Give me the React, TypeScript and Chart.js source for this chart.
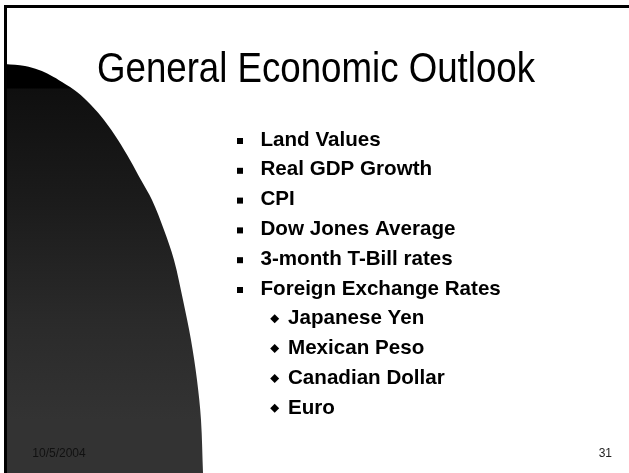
import React, { useEffect, useRef } from "react";
import { Chart, registerables } from "chart.js";

Chart.register(...registerables);

// ---- content ----
const TITLE = "General Economic Outlook";
const BULLETS = [
  "Land Values",
  "Real GDP Growth",
  "CPI",
  "Dow Jones Average",
  "3-month T-Bill rates",
  "Foreign Exchange Rates",
];
const SUB_BULLETS = ["Japanese Yen", "Mexican Peso", "Canadian Dollar", "Euro"];
const FOOTER_DATE = "10/5/2004";
const PAGE_NUMBER = "31";

// decorative arc edge (slide x, slide y)
const ARC_X = [5, 25, 39, 50, 62, 77, 91, 104, 118, 130, 141, 152, 164, 174, 183, 191, 197, 201, 203];
const ARC_Y = [64, 66, 70, 75, 82, 92, 105, 120, 140, 160, 180, 200, 230, 260, 300, 340, 380, 420, 473];

const W = 629;
const H = 473;

const slidePlugin = {
  id: "slide",
  beforeDatasetsDraw(chart: any) {
    const ctx = chart.ctx;
    ctx.save();
    ctx.fillStyle = "#ffffff";
    ctx.fillRect(0, 0, W, H);
    ctx.restore();
  },
  afterDatasetsDraw(chart: any) {
    const ctx = chart.ctx;
    ctx.save();
    // frame lines
    ctx.fillStyle = "#000";
    ctx.fillRect(4, 5, W - 4, 3);
    ctx.fillRect(4, 5, 3, H - 5);

    // title
    ctx.fillStyle = "#000";
    ctx.font = '42px "Liberation Sans Narrow", "Arial Narrow", "Liberation Sans", Arial, sans-serif';
    const tw = ctx.measureText(TITLE).width;
    const sx = 438 / tw;
    ctx.save();
    ctx.translate(316, 82);
    ctx.scale(sx, 1);
    ctx.textAlign = "center";
    ctx.textBaseline = "alphabetic";
    ctx.fillText(TITLE, 0, 0);
    ctx.restore();

    // bullets
    ctx.font = 'bold 20.6px "Liberation Sans", Arial, sans-serif';
    ctx.textAlign = "left";
    ctx.textBaseline = "alphabetic";
    const y0 = 145.5;
    const step = 29.8;
    BULLETS.forEach((t, i) => {
      const by = y0 + i * step;
      ctx.fillRect(237, by - 7.5, 6, 6);
      ctx.fillText(t, 260.5, by);
    });
    SUB_BULLETS.forEach((t, j) => {
      const by = y0 + (BULLETS.length + j) * step;
      const cx = 274.7;
      const cy = by - 5.5;
      ctx.beginPath();
      ctx.moveTo(cx, cy - 4.5);
      ctx.lineTo(cx + 4.5, cy);
      ctx.lineTo(cx, cy + 4.5);
      ctx.lineTo(cx - 4.5, cy);
      ctx.closePath();
      ctx.fill();
      ctx.fillText(t, 288, by);
    });

    // footer
    ctx.font = '12px "Liberation Sans", Arial, sans-serif';
    ctx.fillStyle = "#111";
    ctx.textAlign = "left";
    ctx.fillText(FOOTER_DATE, 32.3, 457);
    ctx.fillStyle = "#222";
    ctx.textAlign = "right";
    ctx.fillText(PAGE_NUMBER, 612, 457);
    ctx.restore();
  },
};

export default function App() {
  const ref = useRef<HTMLCanvasElement | null>(null);

  useEffect(() => {
    document.body.style.margin = "0";
    if (!ref.current) return;
    const chart = new Chart(ref.current, {
      type: "line",
      data: {
        datasets: [
          {
            data: ARC_X.map((x, i) => ({ x, y: ARC_Y[i] })),
            borderWidth: 0,
            borderColor: "rgba(0,0,0,0)",
            pointRadius: 0,
            tension: 0.35,
            fill: "start",
            backgroundColor: (c: any) => {
              const ch = c.chart;
              const ys = ch.scales && ch.scales.y;
              if (!ch.chartArea || !ys) return "#111";
              const top = ys.getPixelForValue(64);
              const bot = ys.getPixelForValue(473);
              const g = ch.ctx.createLinearGradient(0, top, 0, bot);
              const at = (v: number) => (ys.getPixelForValue(v) - top) / (bot - top);
              g.addColorStop(0, "#000000");
              g.addColorStop(at(88), "#000000");
              g.addColorStop(at(89), "#0f0f0f");
              g.addColorStop(at(200), "#1b1b1b");
              g.addColorStop(at(320), "#2a2a2a");
              g.addColorStop(at(420), "#333333");
              g.addColorStop(1, "#333333");
              return g;
            },
          } as any,
        ],
      },
      options: {
        animation: false,
        responsive: false,
        maintainAspectRatio: false,
        devicePixelRatio: 1,
        layout: { padding: 0 },
        plugins: {
          legend: { display: false },
          tooltip: { enabled: false },
          title: { display: false },
        },
        scales: {
          x: { type: "linear", min: 0, max: W, display: false },
          y: { type: "linear", min: 0, max: H, reverse: true, display: false },
        },
      },
      plugins: [slidePlugin],
    });
    return () => chart.destroy();
  }, []);

  return (
    <div style={{ position: "absolute", left: 0, top: 0, width: W, height: H }}>
      <canvas ref={ref} width={W} height={H} style={{ display: "block" }} />
    </div>
  );
}
